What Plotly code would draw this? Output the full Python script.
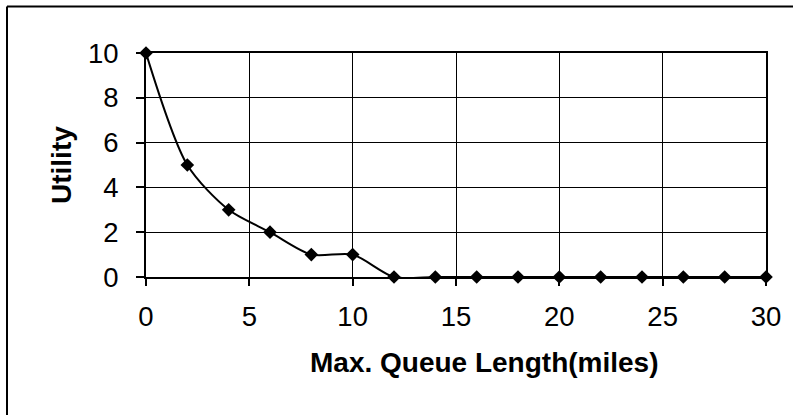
import plotly.graph_objects as go

queue_miles = [0, 2, 4, 6, 8, 10, 12, 14, 16, 18, 20, 22, 24, 26, 28, 30]
utility = [10, 5, 3, 2, 1, 1, 0, 0, 0, 0, 0, 0, 0, 0, 0, 0]
x_ticks = [0, 5, 10, 15, 20, 25, 30]
y_ticks = [0, 2, 4, 6, 8, 10]
x_title = "Max. Queue Length(miles)"
y_title = "Utility"

W, H = 793, 415
L, R, T, B = 146, 27, 53, 138
pw, ph = W - L - R, H - T - B

def px_x(px):
    return (px - L) / pw

def px_y(py):
    return (H - B - py) / ph

FONT = "Liberation Sans, Arial, sans-serif"

fig = go.Figure()
fig.add_trace(go.Scatter(
    x=queue_miles, y=utility, mode="lines+markers",
    line=dict(color="black", width=2, shape="spline", smoothing=0.8),
    marker=dict(symbol="diamond", size=10.5, color="black"),
    cliponaxis=False, showlegend=False,
))

axis_common = dict(
    showline=True, linecolor="black", linewidth=2, mirror=True,
    showgrid=True, gridcolor="black", gridwidth=1,
    ticks="outside", tickcolor="black", tickwidth=2,
    zeroline=False, tickfont=dict(family=FONT, size=27.5, color="black"),
)

fig.update_layout(
    width=W, height=H,
    margin=dict(l=L, r=R, t=T, b=B, pad=0),
    paper_bgcolor="white", plot_bgcolor="white",
    xaxis=dict(range=[0, 30], tickvals=x_ticks, ticklen=7, ticklabelstandoff=7, **axis_common),
    yaxis=dict(range=[0, 10], tickvals=y_ticks, ticklen=8, ticklabelstandoff=12, **axis_common),
    annotations=[
        dict(text="<b>%s</b>" % x_title, xref="paper", yref="paper",
             x=px_x(484), y=px_y(362), xanchor="center", yanchor="middle",
             showarrow=False, font=dict(family=FONT, size=28, color="black")),
        dict(text="<b>%s</b>" % y_title, xref="paper", yref="paper",
             x=px_x(61), y=px_y(165), xanchor="center", yanchor="middle", textangle=-90,
             showarrow=False, font=dict(family=FONT, size=28, color="black")),
    ],
    shapes=[
        dict(type="line", xref="paper", yref="paper",
             x0=px_x(7), y0=px_y(6.5), x1=px_x(W + 10), y1=px_y(6.5),
             line=dict(color="black", width=2)),
        dict(type="line", xref="paper", yref="paper",
             x0=px_x(7), y0=px_y(6.5), x1=px_x(7), y1=px_y(H + 10),
             line=dict(color="black", width=2)),
    ],
)

fig.write_html("out.html")
